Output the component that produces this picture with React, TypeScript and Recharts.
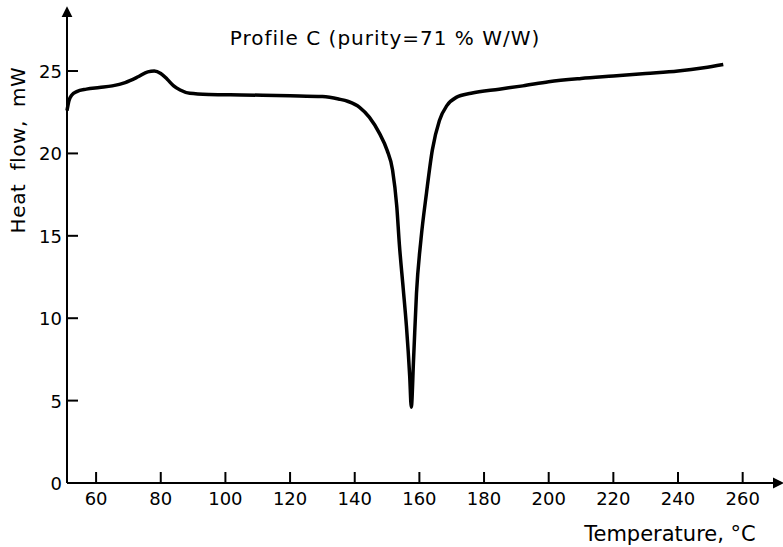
import { LineChart, Line, XAxis, YAxis } from 'recharts'

// DSC trace
const temperature = [51, 51.6, 52.5, 54, 57, 61, 65, 69, 73, 76, 78, 80, 82, 84, 86, 89, 95, 105, 120, 130, 135, 138, 141.5, 144.5, 147.7, 150, 151.7, 153, 153.8, 155, 156, 157, 157.5, 158.2, 159.1, 160.5, 162.2, 164, 166.2, 168.5, 171.4, 176, 184.7, 192, 200, 210, 220, 230, 240, 248, 254]
const heatFlow = [22.6, 23.2, 23.55, 23.75, 23.9, 24.0, 24.1, 24.3, 24.65, 24.95, 25.0, 24.85, 24.5, 24.1, 23.85, 23.65, 23.58, 23.55, 23.5, 23.45, 23.3, 23.15, 22.8, 22.2, 21.2, 20.2, 19.0, 16.8, 14.5, 11.8, 9.5, 6.5, 4.6, 7.5, 11.5, 14.8, 17.6, 20.2, 22.0, 22.9, 23.4, 23.65, 23.9, 24.1, 24.35, 24.55, 24.7, 24.85, 25.0, 25.2, 25.4]

const xTicks = [60, 80, 100, 120, 140, 160, 180, 200, 220, 240, 260]
const yTicks = [0, 5, 10, 15, 20, 25]

const data = temperature.map((t, i) => ({ t, q: heatFlow[i] }))

const font = '"DejaVu Sans", sans-serif'

// tick lines point inwards (negative tickSize), the margin puts the labels back outside
const XTick = ({ x, y, payload }: any) => (
  <text x={x} y={y + 14} textAnchor="middle" fontSize={18} fontFamily={font} fill="#000">
    {payload.value}
  </text>
)

const YTick = ({ x, y, payload }: any) => (
  <text x={x} y={y + 7} textAnchor="end" fontSize={18} fontFamily={font} fill="#000">
    {payload.value}
  </text>
)

export default function App() {
  return (
    <div style={{ position: 'absolute', left: 0, top: 0, width: 783, height: 547, background: '#fff' }}>
      <LineChart width={783} height={547} data={data} margin={{ top: 15, right: 8, left: 0, bottom: 0 }}>
        <defs>
          <marker id="arrow" viewBox="0 0 10 10" refX="2" refY="5" markerWidth="11" markerHeight="18"
            markerUnits="userSpaceOnUse" orient="auto-start-reverse">
            <path d="M0,0 L10,5 L0,10 z" fill="#000" />
          </marker>
        </defs>
        <XAxis
          type="number"
          dataKey="t"
          domain={[51, 270]}
          ticks={xTicks}
          height={64}
          axisLine={{ stroke: '#000', strokeWidth: 2, markerEnd: 'url(#arrow)' }}
          tickLine={{ stroke: '#000', strokeWidth: 2 }}
          tickSize={-11}
          tickMargin={19}
          tick={<XTick />}
          interval={0}
        />
        <YAxis
          type="number"
          domain={[0, 28.4]}
          ticks={yTicks}
          width={67}
          axisLine={{ stroke: '#000', strokeWidth: 2, markerStart: 'url(#arrow)' }}
          tickLine={{ stroke: '#000', strokeWidth: 2 }}
          tickSize={-11}
          tickMargin={16}
          tick={<YTick />}
          interval={0}
        />
        <Line
          type="monotone"
          dataKey="q"
          stroke="#000"
          strokeWidth={3.5}
          dot={false}
          isAnimationActive={false}
        />
        <text x={385} y={45} textAnchor="middle" fontSize={20} letterSpacing={1} fontFamily={font} fill="#000">
          Profile C (purity=71 % W/W)
        </text>
        <text x={670} y={541} textAnchor="middle" fontSize={21} fontFamily={font} fill="#000">
          Temperature, °C
        </text>
        <text x={25} y={150} textAnchor="middle" fontSize={20} letterSpacing={0.6} wordSpacing={6}
          fontFamily={font} fill="#000" transform="rotate(-90 25 150)">
          Heat flow, mW
        </text>
      </LineChart>
    </div>
  )
}
